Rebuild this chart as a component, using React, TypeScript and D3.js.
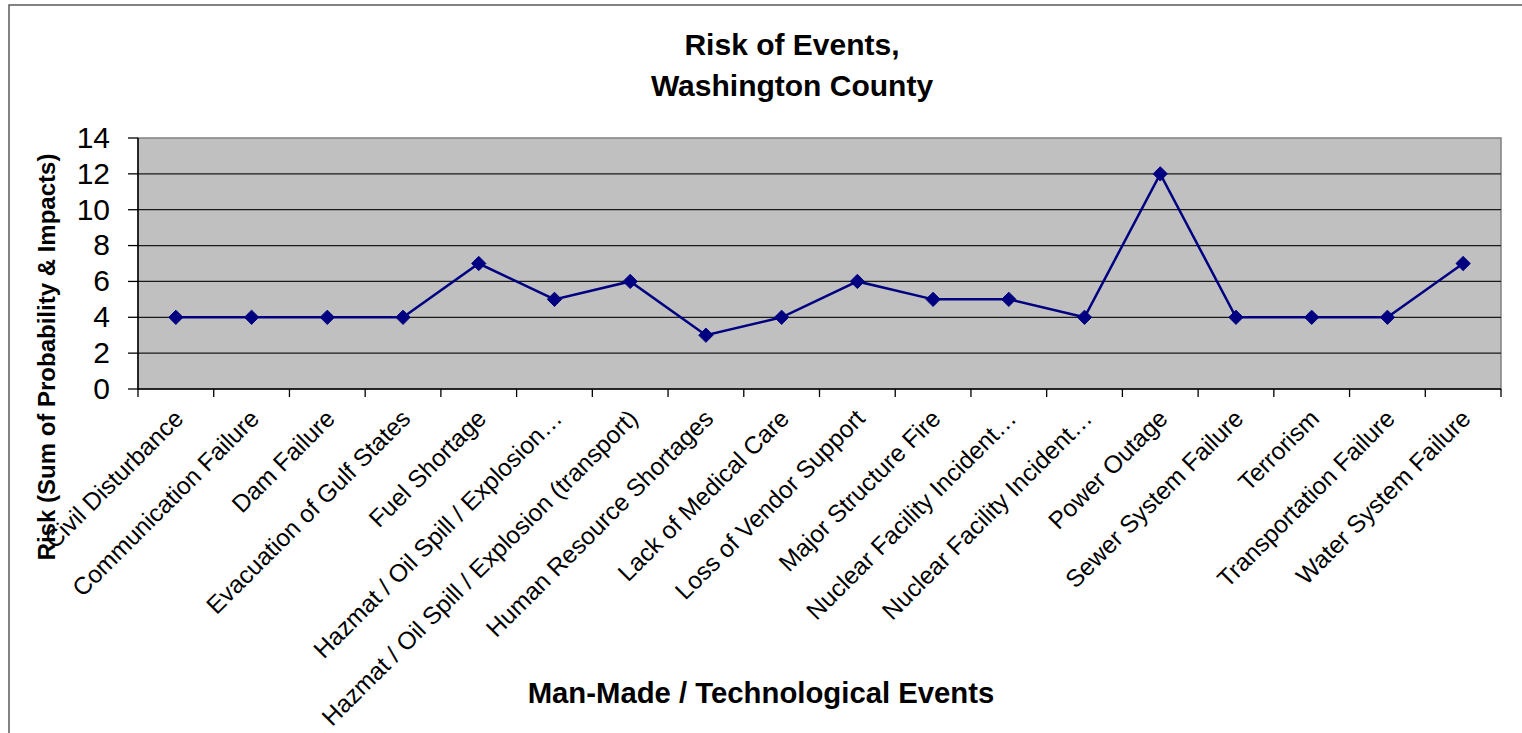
import React from "react";
import * as d3 from "d3";

const categories: string[] = [
  "Civil Disturbance",
  "Communication Failure",
  "Dam Failure",
  "Evacuation of Gulf States",
  "Fuel Shortage",
  "Hazmat / Oil Spill / Explosion…",
  "Hazmat / Oil Spill / Explosion (transport)",
  "Human Resource Shortages",
  "Lack of Medical Care",
  "Loss of Vendor Support",
  "Major Structure Fire",
  "Nuclear Facility Incident…",
  "Nuclear Facility Incident…",
  "Power Outage",
  "Sewer System Failure",
  "Terrorism",
  "Transportation Failure",
  "Water System Failure",
];
const riskValues: number[] = [4, 4, 4, 4, 7, 5, 6, 3, 4, 6, 5, 5, 4, 12, 4, 4, 4, 7];
const yTicks: number[] = [0, 2, 4, 6, 8, 10, 12, 14];
const titleLines: string[] = ["Risk of Events,", "Washington County"];
const xTitle = "Man-Made / Technological Events";
const yTitle = "Risk (Sum of Probability & Impacts)";

const W = 1522;
const H = 733;
const plot = { left: 138, top: 138, right: 1501, bottom: 389 };
const FONT = "Arial, 'Liberation Sans', sans-serif";
const NAVY = "#000080";

export default function App() {
  const x = d3
    .scaleBand<number>()
    .domain(categories.map((_, i) => i))
    .range([plot.left, plot.right])
    .paddingInner(0)
    .paddingOuter(0);
  const y = d3.scaleLinear().domain([0, 14]).range([plot.bottom, plot.top]);
  const cx = (i: number) => (x(i) as number) + x.bandwidth() / 2;

  const line = d3
    .line<number>()
    .x((_, i) => cx(i))
    .y((d) => y(d));

  const boundaries = d3.range(categories.length + 1).map((i) => plot.left + i * x.bandwidth());

  return (
    <div style={{ position: "absolute", left: 0, top: 0 }}>
      <svg width={W} height={H} style={{ display: "block", background: "#fff" }}>
        {/* outer chart border */}
        <rect x={9} y={5} width={W + 20} height={H + 20} fill="#fff" stroke="#5a5a5a" strokeWidth={1.5} />

        {/* title */}
        <text x={792} y={55} textAnchor="middle" fontFamily={FONT} fontSize={30} fontWeight="bold" fill="#000">
          {titleLines[0]}
        </text>
        <text x={792} y={96} textAnchor="middle" fontFamily={FONT} fontSize={30} fontWeight="bold" fill="#000">
          {titleLines[1]}
        </text>

        {/* plot area */}
        <rect
          x={plot.left}
          y={plot.top}
          width={plot.right - plot.left}
          height={plot.bottom - plot.top}
          fill="#c0c0c0"
          stroke="#808080"
          strokeWidth={1.5}
        />

        {/* gridlines */}
        {yTicks
          .filter((t) => t > 0 && t < 14)
          .map((t) => (
            <line key={"g" + t} x1={plot.left} x2={plot.right} y1={y(t)} y2={y(t)} stroke="#1a1a1a" strokeWidth={1.3} />
          ))}

        {/* y axis */}
        <line x1={plot.left} x2={plot.left} y1={plot.top} y2={plot.bottom} stroke="#000" strokeWidth={1.5} />
        {yTicks.map((t) => (
          <g key={"yt" + t}>
            <line x1={plot.left - 10} x2={plot.left} y1={y(t)} y2={y(t)} stroke="#000" strokeWidth={1.3} />
            <text
              x={110}
              y={y(t)}
              dy="0.33em"
              textAnchor="end"
              fontFamily={FONT}
              fontSize={30}
              fill="#000"
            >
              {t}
            </text>
          </g>
        ))}

        {/* x axis */}
        <line x1={plot.left} x2={plot.right} y1={plot.bottom} y2={plot.bottom} stroke="#000" strokeWidth={1.5} />
        {boundaries.map((bx, i) => (
          <line key={"xt" + i} x1={bx} x2={bx} y1={plot.bottom} y2={plot.bottom + 8} stroke="#000" strokeWidth={1.3} />
        ))}
        {categories.map((c, i) => (
          <text
            key={"xl" + i}
            transform={`translate(${cx(i) + 9},${plot.bottom + 31}) rotate(-45)`}
            textAnchor="end"
            fontFamily={FONT}
            fontSize={24.5}
            fill="#000"
          >
            {c}
          </text>
        ))}

        {/* series line */}
        <path d={line(riskValues) || ""} fill="none" stroke={NAVY} strokeWidth={2.5} />
        {riskValues.map((v, i) => (
          <path
            key={"m" + i}
            d={d3.symbol().type(d3.symbolDiamond2).size(130)() || ""}
            transform={`translate(${cx(i)},${y(v)})`}
            fill={NAVY}
            stroke={NAVY}
            strokeWidth={1}
          />
        ))}

        {/* axis titles */}
        <text
          transform={`translate(55,357) rotate(-90)`}
          textAnchor="middle"
          fontFamily={FONT}
          fontSize={24}
          fontWeight="bold"
          fill="#000"
        >
          {yTitle}
        </text>
        <text x={761} y={703} textAnchor="middle" fontFamily={FONT} fontSize={29.3} fontWeight="bold" fill="#000">
          {xTitle}
        </text>
      </svg>
    </div>
  );
}
